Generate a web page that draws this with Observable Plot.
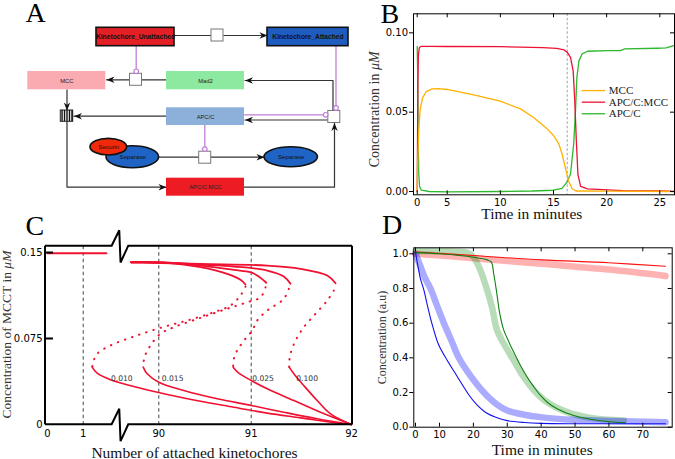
<!DOCTYPE html>
<html><head><meta charset="utf-8">
<script src="https://cdn.jsdelivr.net/npm/d3@7"></script>
<script src="https://cdn.jsdelivr.net/npm/@observablehq/plot@0.6"></script>
<style>
html,body{margin:0;padding:0;background:#fff;}
#fig{position:relative;width:675px;height:459px;overflow:hidden;background:#fff;}
</style></head><body><div id="fig"></div>
<script>
// ================= DATA =================
// ---- Panel A (reaction diagram, diagram units) ----
const aBoxes = [
  {name:"Kinetochore_Unattached", x1:96,   x2:174,   y1:27.3,  y2:45.7},
  {name:"Kinetochore_Attached",   x1:267,  x2:348,   y1:27.3,  y2:45.7},
  {name:"MCC",                    x1:27.3, x2:105.3, y1:71,    y2:89.3},
  {name:"Mad2",                   x1:166,  x2:244,   y1:71,    y2:89.3},
  {name:"APC/C",                  x1:166,  x2:244,   y1:107.3, y2:125},
  {name:"APC/C:MCC",              x1:166,  x2:244,   y1:177.7, y2:195.7}
];
const aBordered = ["Kinetochore_Unattached","Kinetochore_Attached"];
const aEllipses = [
  {name:"Separase", cx:132.3, cy:156.7, rx:26.3, ry:11},
  {name:"Securin",  cx:108.3, cy:146.7, rx:18.3, ry:8.3},
  {name:"Separase", cx:290.7, cy:156.7, rx:26.7, ry:10}
];
const aFill = {"Kinetochore_Unattached":"#e41f26","Kinetochore_Attached":"#1e5dbf","MCC":"#f9abb1",
  "Mad2":"#8de8a0","APC/C":"#8cb0da","APC/C:MCC":"#ed1c24","Securin":"#f0290b","Separase":"#1f63c5"};
const aProcess = [{x:217,y:35},{x:135.5,y:79.3},{x:333.8,y:116.5},{x:204.7,y:157.2}];
const aComplex = {x1:60.3, x2:72.7, y1:110, y2:121.3, stripes:5};
const aEdges = [
  {pts:[[174,35],[210.7,35]]},
  {pts:[[223.3,35],[267,35]], arrow:true},
  {pts:[[166,79.3],[141.5,79.3]]},
  {pts:[[129.5,79.3],[106,79.3]], arrow:true},
  {pts:[[66.5,89.3],[66.5,110]], arrow:true},
  {pts:[[166,115.7],[73.5,115.7]], arrow:true},
  {pts:[[66.5,121.3],[66.5,186.7],[166,186.7]], arrow:true},
  {pts:[[244,186.7],[334,186.7],[334,122.5]], arrow:true},
  {pts:[[327.8,119.5],[244.5,119.5]], arrow:true},
  {pts:[[332.5,110.7],[332.5,80],[244.5,80]], arrow:true},
  {pts:[[158.6,156.7],[198.7,156.7]]},
  {pts:[[210.7,156.7],[264,156.7]], arrow:true}
];
const aModifiers = [
  {pts:[[135.7,45.7],[135.7,70.8]]},
  {pts:[[335.5,45.7],[335.5,107.5]]},
  {pts:[[244,114.3],[325.2,114.3]]},
  {pts:[[204.3,125],[204.3,148.6]]}
];
const panelLetters = [
  {t:"A", x:25, y:21.7}, {t:"B", x:380, y:22.7}, {t:"C", x:25, y:234}, {t:"D", x:381.5, y:233.3}
];

// ---- Panel B (time course, minutes / µM) ----
const bNames = ["MCC","APC/C:MCC","APC/C"];
const bT_mcc = [0,0.05,0.25,0.5,0.9,1.5,2.5,3.5,5,7.5,10,11.9,13.1,14.4,15.0,15.5,15.8,16.1,16.4,16.75,17.1,20,26.4];
const bMcc   = [0,0.015,0.038,0.052,0.059,0.063,0.0647,0.0648,0.0643,0.0609,0.0569,0.0521,0.0468,0.0395,0.0353,0.030,0.0238,0.0153,0.0069,0.0017,0.0003,0.0002,0.0];
const bT_cpx = [0,0.05,0.12,0.2,0.35,0.6,2,5,10,14,15.3,16,16.3,16.6,16.85,17.0,17.15,17.3,17.55,18.2,20.1,21.5,24.7,25.8,26.4];
const bCpx   = [0,0.03,0.07,0.086,0.0905,0.0915,0.0915,0.0914,0.0913,0.0907,0.0902,0.0892,0.0877,0.0845,0.0761,0.0571,0.0317,0.0106,0.0032,0.0017,0.0010,0.0006,0.0004,0.0002,0.0];
const bT_apc = [0,0.08,0.15,0.25,0.4,0.7,2,5,10,13,15,15.8,16.27,16.6,16.9,17.07,17.2,17.4,17.7,18.2,20.1,21.3,21.7,24.8,25.6,26.3];
const bApc   = [0.0915,0.075,0.04,0.012,0.003,0.0008,0.0,-0.0002,0.0,0.0003,0.0008,0.002,0.0059,0.011,0.030,0.051,0.072,0.0825,0.0867,0.0884,0.0888,0.0888,0.0899,0.0903,0.0905,0.092];
const bSwitchT = 16.29;
const bXTicks = [0,5,10,15,20,25];
const bYTicks = [0,0.05,0.10];

// ---- Panel C (bifurcation, attached kinetochores / µM) ----
const cParams = ["0.010","0.015","0.025","0.100"];
const cStub = [[0,0.1494],[1.65,0.1494]];
const c010Upper = [[89.701,0.1415],[90.091,0.1410],[90.451,0.1372],[90.740,0.1314],[90.884,0.1262],[90.938,0.1221]];
const c010Unstable = [[90.938,0.1203],[90.884,0.1125],[90.776,0.1038],[90.595,0.0979],[90.307,0.0907],[90.018,0.0843],[89.729,0.0767],[89.477,0.0689],[89.333,0.0617],[89.290,0.0543],[89.279,0.0500]];
const c010Lower = [[89.279,0.0500],[89.333,0.0447],[89.477,0.0390],[89.729,0.0331],[90.091,0.0262],[90.451,0.0203],[90.812,0.0151],[91.160,0.0099],[91.492,0.0058],[91.873,0.0011],[92,0]];
const c015Upper = [[89.701,0.1415],[90.091,0.1412],[90.451,0.1386],[90.812,0.1349],[90.992,0.1328],[91.060,0.1299],[91.150,0.1236]];
const c015Unstable = [[91.143,0.1197],[91.093,0.1110],[90.957,0.1066],[90.740,0.1009],[90.451,0.0930],[90.162,0.0848],[90.018,0.0791],[89.910,0.0689],[89.845,0.0587],[89.831,0.0500]];
const c015Lower = [[89.831,0.0500],[89.874,0.0442],[90.000,0.0369],[90.271,0.0296],[90.632,0.0224],[91.000,0.0166],[91.325,0.0107],[91.658,0.0050],[92,0]];
const c025Upper = [[89.701,0.1415],[90.091,0.1412],[90.451,0.1395],[90.812,0.1378],[91.160,0.1343],[91.325,0.1291],[91.392,0.1227]];
const c025Unstable = [[91.375,0.1183],[91.325,0.1096],[91.160,0.0994],[91.060,0.0907],[91.010,0.0820],[90.922,0.0732],[90.848,0.0645],[90.812,0.0573],[90.805,0.0500]];
const c025Lower = [[90.805,0.0500],[90.866,0.0447],[91.000,0.0384],[91.160,0.0311],[91.425,0.0209],[91.691,0.0107],[92,0]];
const c100Upper = [[89.701,0.1415],[90.451,0.1400],[91.160,0.1386],[91.492,0.1358],[91.758,0.1299],[91.841,0.1232]];
const c100Unstable = [[91.824,0.1168],[91.758,0.1081],[91.641,0.0965],[91.524,0.0848],[91.442,0.0732],[91.392,0.0617],[91.379,0.0543],[91.379,0.0500]];
const c100Lower = [[91.379,0.0500],[91.425,0.0442],[91.524,0.0340],[91.658,0.0209],[91.791,0.0093],[92,0]];
const cLabelX = [89.600, 90.150, 91.118, 91.558];
const cLabelY = 0.0404;
const cLeftTicks = [0,1];
const cRightTicks = [90,91,92];
const cYTicks = [0,0.075,0.15];

// ---- Panel D (time course, minutes / a.u.) ----
const dT_redSim = [0,20,40,60,76.7];
const dRedSim   = [1.01,0.99,0.965,0.948,0.928];
const dT_redExp = [0,20,40,60,76.7];
const dRedExp   = [1.0,0.975,0.942,0.909,0.872];
const dT_grnSim = [0,10.3,20.1,24.1,25.3,26.0,26.8,27.8,29.0,30.5,31.9,33.9,35.9,37.9,39.8,41.8,44.7,49.6,54.6,59.5,64.9];
const dGrnSim   = [1.007,1.0,0.98,0.965,0.952,0.885,0.788,0.654,0.558,0.49,0.433,0.356,0.288,0.231,0.183,0.144,0.106,0.067,0.046,0.033,0.025];
const dT_grnExp = [0,10,18.3,20.1,22.1,24.1,25.5,27.0,29.0,31.9,34.9,37.9,41.8,47.7,54.6,64.4];
const dGrnExp   = [1.015,1.015,1.005,0.98,0.904,0.788,0.692,0.558,0.481,0.385,0.288,0.212,0.144,0.087,0.054,0.039];
const dT_bluSim = [0,1,2,3.5,5,7,9.5,12.3,15,18.8,21,24,27,30,35,40,50,65,76.7];
const dBluSim   = [1.01,0.93,0.86,0.79,0.70,0.59,0.48,0.385,0.30,0.183,0.13,0.08,0.055,0.038,0.027,0.022,0.020,0.020,0.020];
const dT_bluExp = [0,2,4,6.25,9,11.3,13.5,15.7,19,23.1,27,30,35,39.8,45,49.6,60,76.7];
const dBluExp   = [1.0,0.93,0.86,0.8,0.7,0.6,0.5,0.4,0.3,0.2,0.13,0.096,0.072,0.058,0.048,0.043,0.036,0.029];
const dXTicks = [0,10,20,30,40,50,60,70];
const dYTicks = [0,0.2,0.4,0.6,0.8,1.0];

// ================= RENDER =================
const W = 675, H = 459;
const fig = document.getElementById("fig");
const SERIF = "Liberation Serif", SANS = "Liberation Sans";
const baseStyle = {background:"transparent", overflow:"visible", fontFamily:"DejaVu Sans", fontSize:"10px",
  color:"black", position:"absolute", left:"0px", top:"0px", maxWidth:"none"};
const zip = (a, b) => a.map((v, i) => [v, b[i]]);
function mount(svg) {
  fig.appendChild(svg);
  d3.select(svg).selectAll("text").filter(function(){ return this.textContent.endsWith("μM"); })
    .each(function(){ const s = this.textContent; this.textContent = s.slice(0, -2);
      d3.select(this).append("tspan").attr("font-style","italic").text("μM"); });
}

// ---------- Panel A ----------
const stealth = {draw(ctx){ ctx.moveTo(0,0); ctx.lineTo(3.2,8); ctx.lineTo(0,5.6); ctx.lineTo(-3.2,8); ctx.closePath(); }};
const aEdgePts = aEdges.flatMap((e,k) => e.pts.map(p => ({k, x:p[0], y:p[1]})));
const aTips = aEdges.filter(e => e.arrow).map(e => {
  const n = e.pts.length, [x0,y0] = e.pts[n-2], [x1,y1] = e.pts[n-1];
  return {x:x1, y:y1, a: Math.atan2(y1-y0, x1-x0) * 180 / Math.PI + 90};
});
const aModPts = aModifiers.flatMap((e,k) => e.pts.map(p => ({k, x:p[0], y:p[1]})));
const aModEnds = aModifiers.map(e => ({x:e.pts[e.pts.length-1][0], y:e.pts[e.pts.length-1][1]}));
const aStripes = d3.range(aComplex.stripes).map(i => aComplex.x1 + (i + 0.5) * (aComplex.x2 - aComplex.x1) / aComplex.stripes);
const PURPLE = "#c07fd6";
const pA = Plot.plot({
  width:W, height:H, margin:0, style:baseStyle,
  x:{domain:[0,W], range:[0,W], axis:null},
  y:{domain:[0,H], range:[0,H], axis:null},
  color:{type:"identity"},
  marks:[
    Plot.line(aEdgePts, {x:"x", y:"y", z:"k", stroke:"#333", strokeWidth:1.2}),
    Plot.line(aModPts, {x:"x", y:"y", z:"k", stroke:PURPLE, strokeWidth:1.3}),
    Plot.rect(aBoxes, {x1:"x1", x2:"x2", y1:"y1", y2:"y2", fill:d => aFill[d.name],
      stroke:d => aBordered.includes(d.name) ? "#111" : "none", strokeWidth:1.6}),
    Plot.rect(aEllipses, {x1:d => d.cx - d.rx, x2:d => d.cx + d.rx, y1:d => d.cy - d.ry, y2:d => d.cy + d.ry,
      rx:1000, ry:1000, fill:d => aFill[d.name], stroke:"#111", strokeWidth:1.6}),
    Plot.rect(aProcess, {x1:d => d.x - 6, x2:d => d.x + 6, y1:d => d.y - 6, y2:d => d.y + 6,
      fill:"white", stroke:"#777", strokeWidth:1}),
    Plot.rect([aComplex], {x1:"x1", x2:"x2", y1:"y1", y2:"y2", fill:"white", stroke:"#222", strokeWidth:1}),
    Plot.ruleX(aStripes, {x:d => d, y1:aComplex.y1, y2:aComplex.y2, stroke:"#111", strokeWidth:1.4}),
    Plot.dot(aModEnds, {x:"x", y:"y", r:2.3, fill:"white", stroke:PURPLE, strokeWidth:1.2}),
    Plot.dot(aTips, {x:"x", y:"y", rotate:"a", symbol:stealth, r:3, fill:"#111", stroke:"none"}),
    Plot.text(aBoxes.filter(d => aBordered.includes(d.name)), {x:d => (d.x1 + d.x2) / 2, y:d => (d.y1 + d.y2) / 2 + 0.3,
      text:"name", fontFamily:SANS, fontWeight:"bold", fontSize:6.7, fill:"#111"}),
    Plot.text(aBoxes.filter(d => !aBordered.includes(d.name)), {x:d => (d.x1 + d.x2) / 2, y:d => (d.y1 + d.y2) / 2,
      text:"name", fontFamily:SANS, fontSize:5.8, fill:"#222"}),
    Plot.text(aEllipses, {x:"cx", y:"cy", text:"name", fontFamily:SANS, fontSize:6.2, fill:"#111"}),
    Plot.text(panelLetters, {x:"x", y:"y", text:"t", fontFamily:SERIF, fontSize:28, textAnchor:"start", lineAnchor:"bottom", fill:"black"})
  ]
});
mount(pA);

// ---------- Panel B ----------
const bColors = ["#ffb000","#ee1133","#2db82d"];
const bFrameW = 674 - 413, bFrameH = 194.3 - 13.3;
const pB = Plot.plot({
  width:W, height:H, marginLeft:413, marginRight:W - 674, marginTop:13.3, marginBottom:H - 194.3, style:baseStyle,
  x:{type:"linear", domain:[0,5,25], range:[416.7,446.7,659.3], axis:null},
  y:{domain:[-0.00208,0.112], range:[194.3,13.3], axis:null},
  color:{type:"identity"},
  marks:[
    Plot.ruleX([bSwitchT], {stroke:"#888", strokeWidth:0.8, strokeDasharray:"2.5,2"}),
    Plot.line(zip(bT_apc, bApc), {x:d => d[0], y:d => d[1], stroke:bColors[2], strokeWidth:1.3}),
    Plot.line(zip(bT_cpx, bCpx), {x:d => d[0], y:d => d[1], stroke:bColors[1], strokeWidth:1.3}),
    Plot.line(zip(bT_mcc, bMcc), {x:d => d[0], y:d => d[1], stroke:bColors[0], strokeWidth:1.3}),
    Plot.frame({stroke:"black", strokeWidth:1}),
    Plot.tickX(bXTicks, {x:d => d, insetTop:bFrameH - 4, stroke:"black"}),
    Plot.tickX(bXTicks, {x:d => d, insetBottom:bFrameH - 4, stroke:"black"}),
    Plot.tickY(bYTicks, {y:d => d, insetLeft:bFrameW - 4, stroke:"black"}),
    Plot.axisY({ticks:bYTicks, tickFormat:d3.format(".2f"), tickSize:4, tickPadding:1.5, fontSize:10, anchor:"left", label:null}),
    Plot.axisX({ticks:bXTicks, tickFormat:d => d, tickSize:0, tickPadding:4, fontSize:10, anchor:"bottom", label:null}),
    Plot.ruleY(bNames, {y:(d,i) => 0.0636 - i * 0.0073, x1:17.7, x2:19.9, stroke:(d,i) => bColors[i], strokeWidth:1.3}),
    Plot.text(bNames, {y:(d,i) => 0.0636 - i * 0.0073, x:20.2, text:d => d, textAnchor:"start", fontFamily:SERIF, fontSize:11, fill:"#222"}),
    Plot.text(["Concentration in μM"], {text:d => d, frameAnchor:"left", textAnchor:"middle", rotate:-90, dx:-34.7, dy:5, lineAnchor:"bottom",
      fontFamily:SERIF, fontSize:14, fill:"#333"}),
    Plot.text(["Time in minutes"], {text:d => d, frameAnchor:"bottom", textAnchor:"middle", dx:-12.2, dy:24.5, lineAnchor:"bottom",
      fontFamily:SERIF, fontSize:15.5, fill:"#111"})
  ]
});
mount(pB);

// ---------- Panel C ----------
const C_RED = "#f01030";
const cMargins = {marginLeft:45, marginRight:W - 352, marginTop:245.7, marginBottom:H - 424.3};
const cY = {domain:[0,0.1555], range:[424,245.7], axis:null};
const cFrameW = 352 - 45;
const pCLeft = Plot.plot({
  width:W, height:H, ...cMargins, style:baseStyle,
  x:{type:"linear", domain:[0,1], range:[47,82.7], axis:null},
  y:cY,
  marks:[
    Plot.ruleX([1], {stroke:"#444", strokeWidth:1, strokeDasharray:"3.5,3"}),
    Plot.line(cStub, {x:d => d[0], y:d => d[1], stroke:C_RED, strokeWidth:2}),
    Plot.axisX({ticks:cLeftTicks, tickFormat:d => d, tickSize:0, tickPadding:5, fontSize:10, anchor:"bottom", label:null})
  ]
});
mount(pCLeft);

const cBranches = [
  [c010Upper, c010Unstable, c010Lower], [c015Upper, c015Unstable, c015Lower],
  [c025Upper, c025Unstable, c025Lower], [c100Upper, c100Unstable, c100Lower]
];
const solid = {x:d => d[0], y:d => d[1], stroke:C_RED, strokeWidth:1.8, curve:"catmull-rom"};
const dotted = {x:d => d[0], y:d => d[1], stroke:C_RED, strokeWidth:2, curve:"catmull-rom",
  strokeDasharray:"0.5,7", strokeLinecap:"round"};
function brokenFrame(index, scales, values, dim) {
  const L = dim.marginLeft, R = dim.width - dim.marginRight, T = dim.marginTop, B = dim.height - dim.marginBottom;
  const b = scales.x(89.585);
  const zig = y => `M${L},${y}H${b - 8.3}L${b - 0.7},${y - 15.5}L${b + 0.6},${y + 16.8}L${b + 8.3},${y}H${R}`;
  const g = d3.create("svg:g");
  g.append("path").attr("d", `${zig(T)}${zig(B)}M${L},${T}V${B}M${R},${T}V${B}`)
    .attr("fill","none").attr("stroke","black").attr("stroke-width",2).attr("stroke-linejoin","miter");
  return g.node();
}
const pCRight = Plot.plot({
  width:W, height:H, ...cMargins, style:baseStyle,
  x:{type:"linear", domain:[90,91,92], range:[158.3,250.7,351], axis:null},
  y:cY,
  marks:[
    Plot.ruleX([90,91], {stroke:"#444", strokeWidth:1, strokeDasharray:"3.5,3"}),
    ...cBranches.flatMap(([u, m, l]) => [Plot.line(u, solid), Plot.line(m, dotted), Plot.line(l, {...solid, strokeWidth:1.6})]),
    Plot.text(cParams, {x:(d,i) => cLabelX[i], y:cLabelY, text:d => d, fontFamily:"DejaVu Sans", fontSize:7.6, fill:"#333"}),
    brokenFrame,
    Plot.tickY([0.075, 0.15], {y:d => d, insetRight:cFrameW - 8, stroke:"black", strokeWidth:2}),
    Plot.axisY({ticks:cYTicks, tickFormat:d => d === 0 ? "0" : String(d), tickSize:0, tickPadding:3, fontSize:10, anchor:"left", label:null}),
    Plot.axisX({ticks:cRightTicks, tickFormat:d => d, tickSize:0, tickPadding:5, fontSize:10, anchor:"bottom", label:null}),
    Plot.text(["Concentration of MCCT in μM"], {text:d => d, frameAnchor:"left", textAnchor:"middle", rotate:-90, dx:-35, dy:-1, lineAnchor:"bottom",
      fontFamily:SERIF, fontSize:13.5, fill:"#333"}),
    Plot.text(["Number of attached kinetochores"], {text:d => d, frameAnchor:"bottom", textAnchor:"middle", dx:-4.5, dy:33.5, lineAnchor:"bottom",
      fontFamily:SERIF, fontSize:15.5, fill:"#111"})
  ]
});
mount(pCRight);

// ---------- Panel D ----------
const dFrameW = 671.7 - 413.3, dFrameH = 426.7 - 247.3;
const band = {x:d => d[0], y:d => d[1], strokeWidth:6.5, curve:"catmull-rom"};
const thin = {x:d => d[0], y:d => d[1], strokeWidth:1.1, curve:"catmull-rom"};
const pD = Plot.plot({
  width:W, height:H, marginLeft:413.3, marginRight:W - 671.7, marginTop:247.3, marginBottom:H - 426.7, style:baseStyle,
  x:{type:"linear", domain:[0,10,70], range:[415,439,642.3], axis:null},
  y:{domain:[0,1.0346], range:[426.7,247.3], axis:null},
  marks:[
    Plot.line(zip(dT_redExp, dRedExp), {...band, stroke:"#ff0000", strokeOpacity:0.3}),
    Plot.line(zip(dT_grnExp, dGrnExp), {...band, stroke:"#008000", strokeOpacity:0.28}),
    Plot.line(zip(dT_bluExp, dBluExp), {...band, stroke:"#0000ff", strokeOpacity:0.33}),
    Plot.line(zip(dT_redSim, dRedSim), {...thin, stroke:"#ff1010"}),
    Plot.line(zip(dT_grnSim, dGrnSim), {...thin, stroke:"#108010"}),
    Plot.line(zip(dT_bluSim, dBluSim), {...thin, stroke:"#1010f0"}),
    Plot.frame({stroke:"black", strokeWidth:1}),
    Plot.tickX(dXTicks, {x:d => d, insetTop:dFrameH - 4, stroke:"black"}),
    Plot.tickX(dXTicks, {x:d => d, insetBottom:dFrameH - 4, stroke:"black"}),
    Plot.tickY(dYTicks, {y:d => d, insetLeft:dFrameW - 4, stroke:"black"}),
    Plot.axisY({ticks:dYTicks, tickFormat:d3.format(".1f"), tickSize:4, tickPadding:1.5, fontSize:10, anchor:"left", label:null}),
    Plot.axisX({ticks:dXTicks, tickFormat:d => d, tickSize:0, tickPadding:4, fontSize:10, anchor:"bottom", label:null}),
    Plot.text(["Concentration (a.u)"], {text:d => d, frameAnchor:"left", textAnchor:"middle", rotate:-90, dx:-28, dy:0, lineAnchor:"bottom",
      fontFamily:SERIF, fontSize:12, fill:"#333"}),
    Plot.text(["Time in minutes"], {text:d => d, frameAnchor:"bottom", textAnchor:"middle", dx:-0.8, dy:27.8, lineAnchor:"bottom",
      fontFamily:SERIF, fontSize:15.5, fill:"#111"})
  ]
});
mount(pD);
</script></body></html>
